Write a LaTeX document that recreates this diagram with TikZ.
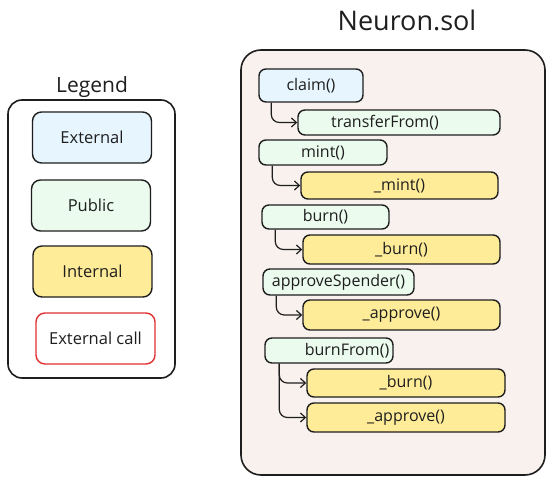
\documentclass[tikz,border=0pt]{standalone}
\usepackage{fontspec}
\setmainfont{Open Sans}
\usepackage{tikz}
\usetikzlibrary{arrows.meta}
\definecolor{xblue}{RGB}{231,245,255}
\definecolor{xgreen}{RGB}{235,251,238}
\definecolor{xyellow}{RGB}{255,236,153}
\definecolor{xred}{RGB}{224,49,49}
\definecolor{xpink}{RGB}{248,241,238}
\definecolor{xline}{RGB}{30,30,30}

\begin{document}
\begin{tikzpicture}[x=1pt, y=-1pt,
		frame/.style={draw=xline, rectangle, line width=1.6pt, inner sep=0pt},
		fn/.style={draw=xline, rectangle, rounded corners=7pt, line width=1.4pt, inner sep=0pt, text=xline, font=\fontsize{16}{18}\selectfont},
		key/.style={fn, rounded corners=9pt, minimum width=119pt, minimum height=51pt, font=\fontsize{16.5}{19}\selectfont},
		call/.style={draw=xline, line width=1.2pt, rounded corners=8pt, -{Straight Barb[length=5pt, width=9pt]}}]
	\useasboundingbox (0,0) rectangle (560,484);
	% legend
	\node[font=\fontsize{21}{25}\selectfont, text=xline] at (92, 87) (legendtitle) {Legend};
	\node[frame, rounded corners=14pt, fill=white, minimum width=167pt, minimum height=278pt] at (91.5, 239) (legend) {};
	\node[key, fill=xblue] at (92, 137.5) (kext) {External};
	\node[key, fill=xgreen] at (91, 205.5) (kpub) {Public};
	\node[key, fill=xyellow] at (92.5, 271.5) (kint) {Internal};
	\node[key, draw=xred, fill=white] at (95.5, 338.5) (kcall) {External call};
	% contract
	\node[font=\fontsize{27}{31}\selectfont, text=xline] at (407, 20) (title) {Neuron.sol};
	\node[frame, rounded corners=20pt, fill=xpink, minimum width=304pt, minimum height=425pt] at (393, 262.5) (contract) {};
	\node[fn, fill=xblue, minimum width=104pt, minimum height=33pt] at (311, 85.5) (claim) {claim()};
	\node[fn, fill=xgreen, minimum width=202pt, minimum height=25pt] at (399, 122.5) (transferfrom) {transferFrom()\hspace*{28pt}};
	\node[fn, fill=xgreen, minimum width=128pt, minimum height=25pt] at (323, 152.5) (mint) {mint()};
	\node[fn, fill=xyellow, minimum width=197pt, minimum height=27pt] at (399.5, 185.5) (imint) {\_mint()};
	\node[fn, fill=xgreen, minimum width=127pt, minimum height=24pt] at (325.5, 217) (burn) {burn()};
	\node[fn, fill=xyellow, minimum width=197pt, minimum height=29pt] at (401.5, 249.5) (iburn) {\_burn()};
	\node[fn, fill=xgreen, minimum width=151pt, minimum height=26pt] at (338.5, 282) (approvespender) {approveSpender()};
	\node[fn, fill=xyellow, minimum width=197pt, minimum height=30pt] at (401.5, 315) (iapprove) {\_approve()};
	\node[fn, fill=xgreen, minimum width=128pt, minimum height=25pt] at (329, 350.5) (burnfrom) {\hspace*{36pt}burnFrom()};
	\node[fn, fill=xyellow, minimum width=198pt, minimum height=28pt] at (406, 383) (iburnb) {\_burn()};
	\node[fn, fill=xyellow, minimum width=198pt, minimum height=29pt] at (406, 417.5) (iapproveb) {\_approve()};
	% calls
	\draw[call] ([xshift=13pt]claim.south west) |- (transferfrom.west);
	\draw[call] ([xshift=14pt]mint.south west) |- (imint.west);
	\draw[call] ([xshift=14pt]burn.south west) |- (iburn.west);
	\draw[call] ([xshift=14pt]approvespender.south west) |- (iapprove.west);
	\draw[call] ([xshift=15pt]burnfrom.south west) |- (iburnb.west);
	\draw[call] ([xshift=15pt]burnfrom.south west) |- (iapproveb.west);
\end{tikzpicture}
\end{document}
